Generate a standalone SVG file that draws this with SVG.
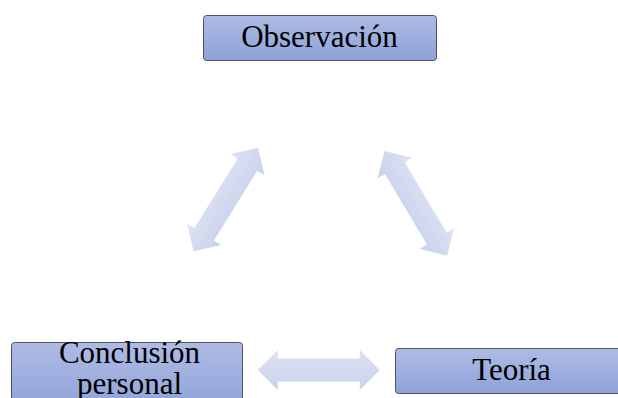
<svg xmlns="http://www.w3.org/2000/svg" width="618" height="398" viewBox="0 0 618 398">
<style>
.box{fill:url(#bg);stroke:#4f5560;stroke-width:1}
.lbl{font-family:"Liberation Serif","Times New Roman",serif;font-size:31px;fill:#000;text-anchor:middle}
.arr{fill:url(#ag)}
</style>
<defs>
<linearGradient id="bg" x1="0" y1="0" x2="0" y2="1">
<stop offset="0" stop-color="#aebbe4"/>
<stop offset="1" stop-color="#8ea2d8"/>
</linearGradient>
<linearGradient id="ag" gradientUnits="userSpaceOnUse" x1="0" y1="-20" x2="0" y2="20">
<stop offset="0" stop-color="#dde2f3"/>
<stop offset="1" stop-color="#c9d1eb"/>
</linearGradient>
<path id="dbl" d="M -61 0 L -41 -20 L -41 -11.5 L 41 -11.5 L 41 -20 L 61 0 L 41 20 L 41 11.5 L -41 11.5 L -41 20 Z"/>
</defs>
<g id="connectors">
<use href="#dbl" class="arr" transform="translate(225.8 199.5) rotate(-58.1)"/>
<use href="#dbl" class="arr" transform="translate(415.8 203.3) rotate(59.2)"/>
<use href="#dbl" class="arr" transform="translate(318.8 370)"/>
</g>
<g id="observacion">
<rect class="box" x="203.5" y="15.5" width="233" height="45" rx="3"/>
<text class="lbl" x="319.5" y="47">Observación</text>
</g>
<g id="conclusion">
<rect class="box" x="11.5" y="342.5" width="231" height="70" rx="3"/>
<text class="lbl" x="129.5" y="363">Conclusión</text>
<text class="lbl" x="129.5" y="394">personal</text>
</g>
<g id="teoria">
<rect class="box" x="395.5" y="348.5" width="233" height="45" rx="3"/>
<text class="lbl" x="511.5" y="380">Teoría</text>
</g>
</svg>
